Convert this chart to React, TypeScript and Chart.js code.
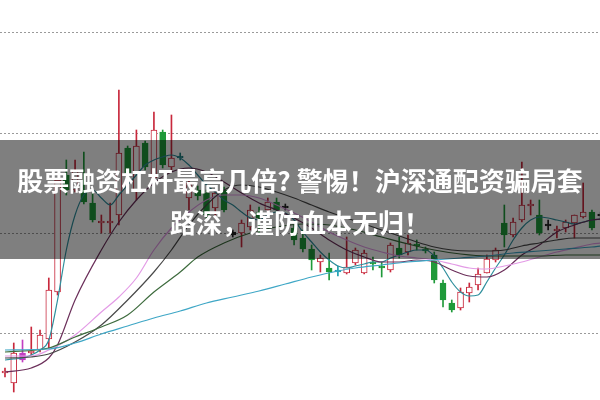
import React, { useEffect, useRef } from 'react';
import { Chart, registerables } from 'chart.js';

Chart.register(...registerables);

// ---------- data ----------
const TITLE_LINES = ['股票融资杠杆最高几倍? 警惕！沪深通配资骗局套', '路深，谨防血本无归！'];

const OPEN = [6.0, 5.0, 8.0, 8.0, 8.3, 9.4, 14.1, 25.8, 24.3, 24.3, 23.0, 21.0, 21.0, 21.8, 28.5, 24.3, 29.0, 25.5, 30.1, 26.6, 27.5, 23.5, 24.3, 24.0, 22.5, 24.3, 20.1, 20.0, 20.6, 22.1, 22.3, 23.1, 22.7, 20.5, 19.5, 18.4, 17.1, 16.5, 16.3, 16.0, 17.0, 16.0, 17.1, 16.7, 16.3, 18.5, 18.1, 18.9, 18.4, 17.8, 15.0, 13.0, 12.5, 14.0, 14.8, 16.0, 17.3, 21.0, 19.8, 21.3, 22.7, 21.8, 20.9, 20.2, 20.5, 21.0, 21.6, 22.1, 21.9];
const CLOSE = [6.2, 8.0, 7.3, 8.2, 9.8, 14.3, 25.3, 24.3, 26.3, 23.1, 21.3, 21.2, 21.2, 28.0, 26.0, 28.7, 26.6, 30.3, 26.8, 27.5, 27.7, 25.0, 23.7, 21.8, 24.0, 22.3, 19.8, 21.0, 22.3, 21.5, 23.1, 22.3, 22.5, 19.3, 18.4, 17.3, 17.5, 16.1, 16.1, 16.6, 18.3, 18.0, 16.9, 16.5, 18.8, 17.8, 19.0, 18.7, 18.2, 15.3, 13.3, 12.3, 14.1, 14.6, 15.9, 17.4, 18.3, 19.8, 21.1, 22.8, 22.9, 20.0, 20.7, 20.4, 21.1, 21.8, 22.1, 20.5, 21.7];
const HIGH = [6.5, 9.0, 9.3, 10.6, 10.3, 15.5, 25.3, 27.3, 27.3, 28.1, 24.0, 21.8, 23.0, 34.3, 28.7, 30.3, 29.2, 32.1, 30.3, 31.8, 28.0, 25.3, 24.7, 24.3, 24.3, 24.6, 20.3, 21.3, 22.8, 22.6, 23.5, 23.5, 22.9, 20.8, 20.3, 18.8, 17.8, 18.0, 16.7, 19.6, 18.5, 18.3, 17.6, 17.1, 19.0, 19.6, 19.8, 19.3, 18.6, 18.1, 15.3, 13.3, 14.5, 15.0, 16.5, 17.8, 18.5, 22.8, 21.5, 27.1, 23.3, 23.3, 21.3, 20.7, 21.3, 21.8, 25.0, 22.3, 22.1];
const LOW = [5.6, 4.1, 7.1, 7.8, 8.1, 8.5, 13.8, 23.8, 24.1, 22.9, 21.1, 20.0, 20.0, 20.8, 25.7, 23.3, 26.3, 25.1, 26.5, 26.3, 27.3, 22.3, 23.3, 21.5, 21.5, 22.1, 19.6, 18.6, 20.3, 19.8, 22.0, 22.1, 22.3, 18.8, 18.1, 16.3, 16.1, 15.3, 15.7, 15.9, 16.8, 15.9, 16.3, 15.6, 16.1, 17.5, 17.8, 18.3, 18.0, 15.0, 12.6, 12.1, 12.3, 13.1, 14.3, 16.0, 17.1, 18.6, 19.6, 21.1, 21.8, 19.8, 20.3, 19.5, 20.1, 19.5, 21.5, 20.3, 21.3];

// candles drawn with a marker colour (index -> colour)
const MARKED: Record<number, string> = { 2: '#c23fc2', 20: '#1f7f7f', 26: '#222222', 32: '#222222', 38: '#1a9fb0', 62: '#222222', 68: '#222222' };

// moving-average lines: [candle index, value]
const MA5: [number, number][] = [[0, 7.3], [1, 7.4], [2, 7.5], [3, 7.8], [4, 8.3], [5, 9.3], [6, 13.3], [7, 18.3], [8, 21.8], [9, 23.8], [10, 24.3], [11, 23.5], [12, 22.8], [13, 23.8], [14, 24.8], [15, 25.8], [16, 26.8], [17, 27.3], [18, 27.6], [19, 27.8], [20, 27.5], [21, 26.8], [22, 25.8], [23, 24.8], [24, 24.1], [25, 23.3], [26, 22.8], [27, 22.1], [28, 21.5], [29, 21.3], [30, 21.8], [31, 22.1], [32, 22.0], [33, 21.3], [34, 20.1], [35, 19.1], [36, 18.1], [37, 17.3], [38, 16.7], [39, 16.5], [40, 16.7], [41, 16.9], [42, 17.1], [43, 17.1], [44, 17.5], [45, 17.8], [46, 18.1], [47, 18.3], [48, 18.3], [49, 17.7], [50, 16.5], [51, 15.1], [52, 14.1], [53, 13.7], [54, 13.8], [55, 15.1], [56, 16.5], [57, 17.8], [58, 19.3], [59, 20.5], [60, 21.3], [61, 21.6], [62, 21.5], [63, 21.3], [64, 21.1], [65, 20.9], [66, 21.1], [67, 21.3], [68, 21.4]];
const MA10: [number, number][] = [[0, 6.1], [3, 6.5], [5, 7.5], [6, 8.8], [8, 13.3], [11, 18.3], [13, 21.1], [15, 23.3], [17, 25.0], [19, 26.1], [21, 26.5], [23, 26.1], [25, 25.1], [27, 24.0], [29, 23.0], [31, 22.3], [33, 21.5], [35, 20.5], [37, 19.3], [39, 18.3], [41, 17.6], [43, 17.1], [45, 17.1], [47, 17.3], [49, 17.1], [51, 16.3], [53, 15.7], [55, 15.6], [57, 16.3], [59, 17.8], [61, 18.8], [63, 20.1], [65, 20.8], [67, 21.3], [68, 21.4]];
const MA20: [number, number][] = [[0, 7.7], [3, 7.7], [5, 8.3], [8, 9.8], [11, 12.1], [13, 13.6], [15, 15.5], [17, 18.3], [19, 20.5], [21, 22.1], [23, 23.3], [25, 23.8], [27, 23.8], [29, 23.5], [31, 22.8], [33, 22.0], [35, 21.1], [37, 20.1], [39, 19.3], [41, 18.6], [43, 18.1], [45, 17.7], [47, 17.5], [49, 17.3], [51, 16.9], [53, 16.5], [55, 16.4], [57, 16.7], [59, 17.1], [61, 17.6], [63, 18.1], [65, 18.5], [67, 18.9], [68, 19.0]];
const MA30: [number, number][] = [[0, 7.5], [3, 7.6], [5, 7.9], [8, 9.1], [11, 10.8], [14, 13.3], [17, 16.1], [19, 18.3], [21, 20.8], [23, 22.8], [25, 24.3], [27, 24.8], [29, 24.6], [31, 24.1], [33, 23.5], [35, 22.8], [37, 22.1], [39, 21.5], [41, 20.9], [43, 20.3], [45, 19.7], [47, 19.1], [49, 18.6], [51, 18.3], [53, 18.2], [55, 18.2], [57, 18.3], [59, 18.7], [61, 19.0], [63, 19.3], [65, 19.5], [67, 19.5], [68, 19.5]];
const MA60: [number, number][] = [[0, 8.1], [5, 8.5], [8, 9.6], [11, 10.6], [14, 11.8], [17, 14.1], [20, 16.1], [22, 17.6], [25, 19.0], [28, 20.0], [31, 20.6], [34, 20.9], [37, 20.8], [40, 20.3], [43, 19.6], [46, 18.9], [49, 18.3], [52, 17.9], [55, 17.7], [58, 17.7], [61, 17.7], [64, 17.8], [67, 17.8], [68, 17.8]];
const MA120: [number, number][] = [[0, 8.3], [5, 8.4], [8, 9.0], [11, 9.9], [14, 10.7], [17, 11.5], [20, 12.2], [23, 13.0], [26, 13.6], [29, 14.2], [32, 14.9], [35, 15.6], [38, 16.2], [40, 16.5], [43, 16.8], [46, 17.1], [49, 17.3], [52, 17.5], [55, 17.7], [58, 18.0], [61, 18.2], [64, 18.4], [67, 18.6], [68, 18.7]];

const GRID_VALUES = [10, 20, 30, 40];

// ---------- styles ----------
const UP = '#c8283c';
const DOWN = '#1f9a3a';

export default function App() {
  const ref = useRef<HTMLCanvasElement | null>(null);

  useEffect(() => {
    if (!ref.current) return;
    const idx = OPEN.map((_, i) => i);
    const colorOf = (i: number) => MARKED[i] ?? (CLOSE[i] >= OPEN[i] ? UP : DOWN);
    const fillOf = (i: number) => (MARKED[i] ? MARKED[i] : CLOSE[i] >= OPEN[i] ? '#ffffff' : DOWN);

    const line = (data: [number, number][], color: string) => ({
      type: 'line' as const,
      data: data.map(([x, y]) => ({ x, y })),
      borderColor: color,
      borderWidth: 1.2,
      pointRadius: 0,
      tension: 0.4,
      cubicInterpolationMode: 'monotone' as const,
      order: 0,
      fill: false,
    });

    const chart = new Chart(ref.current, {
      type: 'bar',
      data: {
        datasets: [
          line(MA120, '#3fa7c6'),
          line(MA60, '#3d6b3d'),
          line(MA30, '#4a4a4a'),
          line(MA20, '#e39be6'),
          line(MA10, '#6b2f5a'),
          line(MA5, '#2f8f9d'),
          {
            type: 'bar',
            data: idx.map((i) => ({ x: i, y: [OPEN[i], CLOSE[i]] })),
            backgroundColor: idx.map(fillOf),
            borderColor: idx.map(colorOf),
            borderWidth: 1,
            borderSkipped: false,
            barThickness: 6,
            grouped: false,
            order: 1,
          } as any,
          {
            type: 'bar',
            data: idx.map((i) => ({ x: i, y: [LOW[i], HIGH[i]] })),
            backgroundColor: idx.map(colorOf),
            borderWidth: 0,
            barThickness: 1,
            grouped: false,
            order: 2,
          } as any,
        ],
      },
      options: {
        animation: false,
        responsive: false,
        maintainAspectRatio: false,
        layout: { padding: 0 },
        plugins: { legend: { display: false }, tooltip: { enabled: false } },
        scales: {
          x: { type: 'linear', min: -0.57, max: 67.92, display: false, offset: false },
          y: {
            type: 'linear',
            min: 3.3,
            max: 43.3,
            display: true,
            afterBuildTicks: (scale: any) => {
              scale.ticks = GRID_VALUES.map((v) => ({ value: v }));
            },
            ticks: { display: false },
            grid: { color: '#9a9a9a', lineWidth: 1, drawTicks: false },
            border: { display: false, dash: [2, 2] },
          },
        },
      } as any,
    });
    return () => chart.destroy();
  }, []);

  return (
    <div style={{ position: 'fixed', left: 0, top: 0, width: 600, height: 400, background: '#ffffff', overflow: 'hidden' }}>
      <canvas ref={ref} width={600} height={400} style={{ display: 'block', width: 600, height: 400 }} />
      <div
        style={{
          position: 'absolute',
          left: 0,
          top: 140,
          width: 600,
          height: 119,
          background: 'rgba(0,0,0,0.5)',
          color: '#ffffff',
          fontFamily: '"Noto Sans CJK SC", "Noto Sans", sans-serif',
          fontWeight: 700,
          fontSize: 26,
          lineHeight: '42px',
          textAlign: 'center',
          paddingTop: 19,
          boxSizing: 'border-box',
          whiteSpace: 'nowrap',
        }}
      >
        {TITLE_LINES.map((t) => (
          <div key={t}>{t}</div>
        ))}
      </div>
    </div>
  );
}
